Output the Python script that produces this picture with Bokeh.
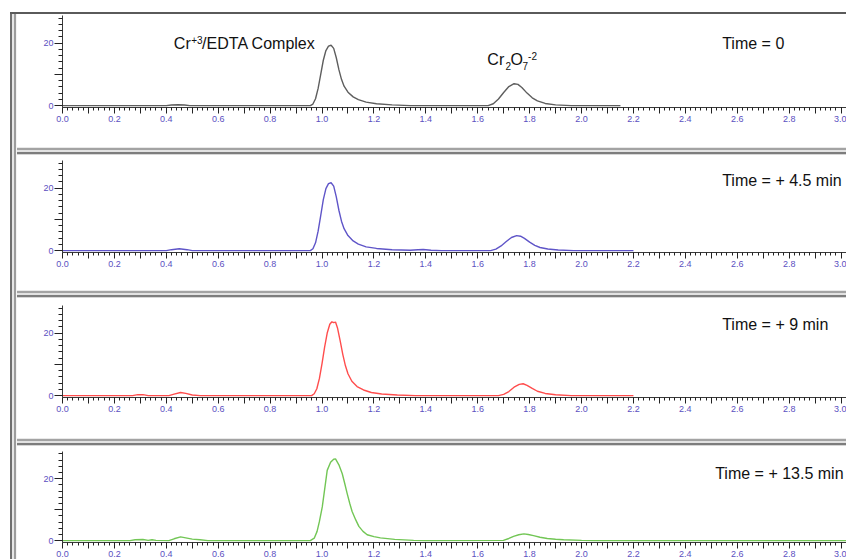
from bokeh.plotting import figure
from bokeh.layouts import row, column
from bokeh.models import Div, FixedTicker, Range1d, PrintfTickFormatter
from bokeh.core.properties import value
from bokeh.embed import file_html
from bokeh.resources import INLINE

# ---------------- data (retention time in min, detector response) ----------------
t0_x = [0.0, 0.40, 0.42, 0.445, 0.47, 0.49, 0.955, 0.965, 0.975, 0.985, 0.995, 1.005, 1.015, 1.025,
        1.035, 1.045, 1.055, 1.065, 1.075, 1.085, 1.10, 1.12, 1.14, 1.17, 1.21, 1.27, 1.34, 1.64,
        1.66, 1.68, 1.70, 1.72, 1.74, 1.755, 1.77, 1.79, 1.81, 1.83, 1.86, 1.90, 1.96, 2.15]
t0_y = [0, 0, 0.2, 0.3, 0.2, 0, 0, 0.5, 2.2, 5.5, 10.0, 14.5, 17.6, 19.0,
        19.3, 18.3, 15.3, 11.5, 8.4, 6.2, 4.3, 2.8, 1.9, 1.1, 0.6, 0.25, 0, 0,
        0.6, 2.1, 4.2, 6.1, 7.0, 6.8, 5.8, 4.0, 2.5, 1.5, 0.7, 0.25, 0, 0]

t1_x = [0.0, 0.40, 0.42, 0.45, 0.48, 0.50, 0.955, 0.965, 0.975, 0.985, 0.995, 1.005, 1.015, 1.025,
        1.035, 1.045, 1.055, 1.065, 1.075, 1.085, 1.10, 1.12, 1.14, 1.17, 1.21, 1.27, 1.34, 1.37,
        1.39, 1.42, 1.46, 1.65, 1.67, 1.69, 1.71, 1.73, 1.75, 1.765, 1.78, 1.80, 1.82, 1.84, 1.87,
        1.91, 1.97, 2.2]
t1_y = [0, 0, 0.3, 0.6, 0.3, 0, 0, 0.6, 2.5, 6.2, 11.2, 16.3, 19.8, 21.4,
        21.7, 20.6, 17.2, 12.9, 9.4, 7.0, 4.8, 3.1, 2.1, 1.2, 0.7, 0.3, 0.1, 0.3,
        0.35, 0.1, 0, 0, 0.5, 1.5, 2.9, 4.2, 4.8, 4.6, 3.9, 2.7, 1.7, 1.0, 0.5,
        0.2, 0, 0]

t2_x = [0.0, 0.27, 0.29, 0.31, 0.33, 0.41, 0.43, 0.455, 0.475, 0.50, 0.53, 0.96, 0.97, 0.98, 0.99,
        1.00, 1.01, 1.02, 1.03, 1.038, 1.045, 1.052, 1.06, 1.07, 1.08, 1.09, 1.10, 1.115, 1.135,
        1.16, 1.19, 1.23, 1.29, 1.36, 1.68, 1.70, 1.72, 1.74, 1.76, 1.775, 1.79, 1.81, 1.83, 1.86,
        1.90, 1.96, 2.2]
t2_y = [0, 0, 0.3, 0.3, 0, 0, 0.5, 1.0, 0.7, 0.2, 0, 0, 0.6, 2.2, 5.5,
        10.2, 15.5, 20.0, 22.8, 23.6, 23.3, 23.5, 21.5, 17.5, 13.2, 9.6, 7.0, 4.6, 2.9,
        1.8, 1.0, 0.5, 0.2, 0, 0, 0.4, 1.3, 2.7, 3.6, 3.8, 3.3, 2.3, 1.4, 0.7,
        0.3, 0, 0]

t3_x = [0.0, 0.26, 0.28, 0.31, 0.33, 0.345, 0.36, 0.41, 0.43, 0.455, 0.475, 0.50, 0.53, 0.56,
        0.955, 0.97, 0.981, 0.99, 1.001, 1.010, 1.020, 1.033, 1.045, 1.052, 1.065, 1.078, 1.088,
        1.097, 1.107, 1.116, 1.13, 1.142, 1.158, 1.174, 1.20, 1.225, 1.28, 1.353, 1.40, 1.699,
        1.72, 1.738, 1.758, 1.778, 1.795, 1.815, 1.84, 1.868, 1.90, 1.931, 2.0, 2.05, 3.02]
t3_y = [0, 0, 0.3, 0.35, 0.1, 0.3, 0.1, 0, 0.6, 1.2, 0.9, 0.5, 0.3, 0,
        0, 0.8, 3.0, 6.2, 10.9, 16.5, 22.7, 25.3, 26.3, 26.4, 24.5, 21.6, 18.3,
        15.2, 12.0, 9.4, 6.7, 4.6, 3.0, 1.9, 1.3, 0.9, 0.4, 0.1, 0, 0.1,
        0.7, 1.4, 1.9, 2.2, 2.0, 1.6, 1.1, 0.7, 0.45, 0.3, 0.1, 0, 0]

time_labels = ["Time = 0", "Time = + 4.5 min", "Time = + 9 min", "Time = + 13.5 min"]
trace_colors = ["#5e5e5e", "#5f55c8", "#ff4d4d", "#72c655"]

x_major = [0.0, 0.1, 0.2, 0.3, 0.4, 0.5, 0.6, 0.7, 0.8, 0.9, 1.0, 1.1, 1.2, 1.3, 1.4, 1.5, 1.6,
           1.7, 1.8, 1.9, 2.0, 2.1, 2.2, 2.3, 2.4, 2.5, 2.6, 2.7, 2.8, 2.9, 3.0]
x_hidden = [0.1, 0.3, 0.5, 0.7, 0.9, 1.1, 1.3, 1.5, 1.7, 1.9, 2.1, 2.3, 2.5, 2.7, 2.9]
x_minor = [round(i * 0.02, 2) for i in range(0, 152)]
y_major = [0, 10, 20]
y_minor = [0, 2, 4, 6, 8, 10, 12, 14, 16, 18, 20, 22, 24, 26, 28]

FONT = value("Liberation Sans")
TICK_COLOR = "#5b4fbf"


def panel(xs, ys, color, label, label_x, label_y, fig_h, mb_top, mb_bottom):
    p = figure(width=829, height=fig_h, x_range=Range1d(0, 3.021), y_range=Range1d(-0.6, 28.8),
               output_backend="svg", toolbar_location=None,
               min_border_left=45, min_border_right=0,
               min_border_top=mb_top, min_border_bottom=mb_bottom)
    p.outline_line_color = None
    p.xgrid.visible = False
    p.ygrid.visible = False
    p.background_fill_color = "white"
    p.border_fill_color = "white"

    xa = p.xaxis[0]
    xa.ticker = FixedTicker(ticks=x_major, minor_ticks=x_minor)
    xa.formatter = PrintfTickFormatter(format="%.1f")
    xa.major_label_overrides = {v: "" for v in x_hidden}
    xa.axis_line_color = "#3a3a3a"
    xa.major_tick_line_color = "#222222"
    xa.minor_tick_line_color = "#222222"
    xa.major_tick_out = 6
    xa.major_tick_in = 0
    xa.minor_tick_out = 3
    xa.minor_tick_in = 0
    xa.major_label_standoff = 2
    xa.major_label_text_font = "Liberation Sans"
    xa.major_label_text_font_size = "9px"
    xa.major_label_text_color = TICK_COLOR

    ya = p.yaxis[0]
    ya.ticker = FixedTicker(ticks=y_major, minor_ticks=y_minor)
    ya.major_label_overrides = {10: ""}
    ya.axis_line_color = "#3a3a3a"
    ya.major_tick_line_color = "#222222"
    ya.minor_tick_line_color = "#222222"
    ya.major_tick_out = 8
    ya.major_tick_in = 0
    ya.minor_tick_out = 4
    ya.minor_tick_in = 0
    ya.major_label_standoff = 1
    ya.major_label_text_font = "Liberation Sans"
    ya.major_label_text_font_size = "9px"
    ya.major_label_text_color = TICK_COLOR

    p.line(xs, ys, line_color=color, line_width=1.4)
    p.text(x=[label_x], y=[label_y], text=[label], text_font=FONT, text_font_size="16px",
           text_baseline="middle", text_align="left", text_color="#111111")
    return p


p1 = panel(t0_x, t0_y, trace_colors[0], time_labels[0], 2.542, 19.7, 133, 1, 40)
p2 = panel(t1_x, t1_y, trace_colors[1], time_labels[1], 2.542, 22.4, 135, 5, 38)
p3 = panel(t2_x, t2_y, trace_colors[2], time_labels[2], 2.542, 22.7, 140, 7, 41)
p4 = panel(t3_x, t3_y, trace_colors[3], time_labels[3], 2.515, 21.8, 113, 5, 16)

# peak annotations in panel 1
big = "16px"
small = "10px"
p1.text(x=[0.429], y=[19.8], text=["Cr"], text_font=FONT, text_font_size=big,
        text_baseline="middle", text_color="#111111")
p1.text(x=[0.496], y=[20.9], text=["+3"], text_font=FONT, text_font_size=small,
        text_baseline="middle", text_color="#111111")
p1.text(x=[0.538], y=[19.8], text=["/EDTA Complex"], text_font=FONT, text_font_size=big,
        text_baseline="middle", text_color="#111111")
p1.text(x=[1.637], y=[14.6], text=["Cr"], text_font=FONT, text_font_size=big,
        text_baseline="middle", text_color="#111111")
p1.text(x=[1.707], y=[12.8], text=["2"], text_font=FONT, text_font_size=small,
        text_baseline="middle", text_color="#111111")
p1.text(x=[1.726], y=[14.6], text=["O"], text_font=FONT, text_font_size=big,
        text_baseline="middle", text_color="#111111")
p1.text(x=[1.773], y=[12.8], text=["7"], text_font=FONT, text_font_size=small,
        text_baseline="middle", text_color="#111111")
p1.text(x=[1.794], y=[15.7], text=["-2"], text_font=FONT, text_font_size=small,
        text_baseline="middle", text_color="#111111")


def block(w, h, bg):
    return Div(text="", width=w, height=h, margin=0, styles={"background": bg})


SEP = ("linear-gradient(to bottom, #e9e9e9 0px, #e9e9e9 1px, #a3a3a3 1px, #a3a3a3 3px, "
       "#e2e2e2 3px, #e2e2e2 5px, #7d7d7d 5px, #7d7d7d 7px, #d6d6d6 7px, #d6d6d6 8px)")
LEFT = ("linear-gradient(to right, #6f6f6f 0px, #6f6f6f 2px, #e6e6e6 2px, #e6e6e6 4px, "
        "#9c9c9c 4px, #9c9c9c 6px, #f4f4f4 6px, #f4f4f4 7px)")

panels = column(p1, block(829, 8, SEP), p2, block(829, 8, SEP), p3, block(829, 8, SEP), p4,
                spacing=0, margin=0)
inner = row(block(7, 545, LEFT), panels, spacing=0, margin=0)
right = column(block(836, 12, "#ffffff"), block(836, 2, "#5a5a5a"), inner, spacing=0, margin=0)
layout = row(block(10, 559, "#ffffff"), right, spacing=0, margin=0)

open("out.html", "w").write(file_html(layout, INLINE))
